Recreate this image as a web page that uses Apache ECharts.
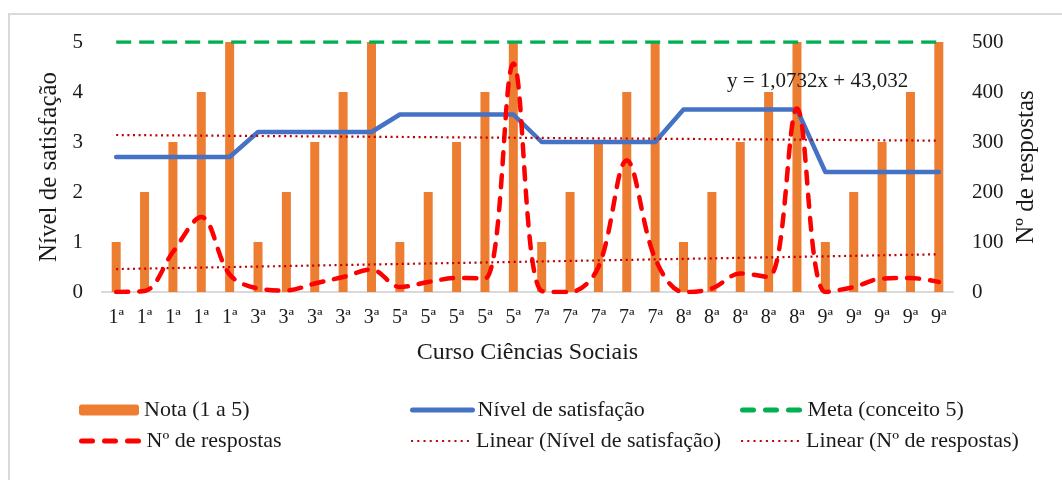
<!DOCTYPE html>
<html><head><meta charset="utf-8">
<script src="https://cdn.jsdelivr.net/npm/echarts@6/dist/echarts.min.js"></script>
<style>html,body{margin:0;padding:0;background:#fff}#c{width:1062px;height:480px}</style>
</head><body><div id="c"></div>
<script>
const categories = ['1ª','1ª','1ª','1ª','1ª','3ª','3ª','3ª','3ª','3ª','5ª','5ª','5ª','5ª','5ª','7ª','7ª','7ª','7ª','7ª','8ª','8ª','8ª','8ª','8ª','9ª','9ª','9ª','9ª','9ª'];
const nota = [1,2,3,4,5, 1,2,3,4,5, 1,2,3,4,5, 1,2,3,4,5, 1,2,3,4,5, 1,2,3,4,5];
const satisfacao = [2.7,2.7,2.7,2.7,2.7, 3.2,3.2,3.2,3.2,3.2, 3.55,3.55,3.55,3.55,3.55, 3.0,3.0,3.0,3.0,3.0, 3.65,3.65,3.65,3.65,3.65, 2.4,2.4,2.4,2.4,2.4];
const meta = [5,5,5,5,5, 5,5,5,5,5, 5,5,5,5,5, 5,5,5,5,5, 5,5,5,5,5, 5,5,5,5,5];
const respostas = [0,2,80,150,35, 7,3,17,30,45, 10,20,28,27,457, 2,0,50,263,67, 0,7,37,30,367, 0,10,27,28,20];
const equationText = 'y = 1,0732x + 43,032';

function linearTrend(ys){
  const n = ys.length;
  let sx=0, sy=0, sxy=0, sxx=0;
  ys.forEach((y,i)=>{const x=i+1; sx+=x; sy+=y; sxy+=x*y; sxx+=x*x;});
  const b = (n*sxy - sx*sy)/(n*sxx - sx*sx);
  const a = (sy - b*sx)/n;
  return ys.map((_,i)=> a + b*(i+1));
}

const FONT = 'Liberation Serif';
const TXT = '#1a1a1a';
const chart = echarts.init(document.getElementById('c'), null, {renderer:'canvas'});

const legendBase = {padding:0, itemWidth:60, itemHeight:11, itemGap:6, textStyle:{fontFamily:FONT, fontSize:22, color:TXT}, selectedMode:false};
function leg(name, left, top, extra){ return Object.assign({}, legendBase, {data:[name], left:left, top:top}, extra||{}); }
const hideSym = {itemStyle:{opacity:0, color:'rgba(0,0,0,0)', borderWidth:0}};
const option = {
  backgroundColor:'#fff',
  animation:false,
  graphic:[
    {type:'rect', shape:{x:9, y:14, width:1100, height:520}, style:{fill:'none', stroke:'#D9D9D9', lineWidth:2}, silent:true, z:-10},
    {type:'text', left:727, top:71, style:{text:equationText, fontFamily:FONT, fontSize:21, fill:TXT}, z:100}
  ],
  grid:{left:102, right:109, top:42, bottom:188, containLabel:false},
  xAxis:{
    type:'category', data:categories, boundaryGap:true,
    name:'Curso Ciências Sociais', nameLocation:'middle', nameGap:49,
    nameTextStyle:{fontFamily:FONT, fontSize:24, color:TXT},
    axisLine:{show:true, lineStyle:{color:'#D9D9D9', width:2}},
    axisTick:{show:false},
    axisLabel:{fontFamily:FONT, fontSize:20, color:TXT, margin:16, interval:0}
  },
  yAxis:[
    {type:'value', min:0, max:5, interval:1, position:'left',
     name:'Nível de satisfação', nameLocation:'middle', nameGap:37, nameRotate:90,
     nameTextStyle:{fontFamily:FONT, fontSize:25, color:TXT},
     axisLine:{show:false}, axisTick:{show:false}, splitLine:{show:false},
     axisLabel:{fontFamily:FONT, fontSize:21, color:TXT, margin:19}},
    {type:'value', min:0, max:500, interval:100, position:'right',
     name:'Nº de respostas', nameLocation:'middle', nameGap:58, nameRotate:90,
     nameTextStyle:{fontFamily:FONT, fontSize:25, color:TXT},
     axisLine:{show:false}, axisTick:{show:false}, splitLine:{show:false},
     axisLabel:{fontFamily:FONT, fontSize:21, color:TXT, margin:19}}
  ],
  legend:[
    leg('Nota (1 a 5)', 79, 399),
    leg('Nível de satisfação', 410, 399, Object.assign({lineStyle:{width:5, cap:'round'}}, hideSym)),
    leg('Meta (conceito 5)', 740, 399, Object.assign({lineStyle:{type:[11,12], width:5, cap:'round'}}, hideSym)),
    leg('Nº de respostas', 79, 430, Object.assign({lineStyle:{type:[11,12], width:5, cap:'round'}}, hideSym)),
    leg('Linear (Nível de satisfação)', 410, 430, Object.assign({lineStyle:{type:[2,4.2], width:2.2}}, hideSym)),
    leg('Linear (Nº de respostas)', 740, 430, Object.assign({lineStyle:{type:[2,4.2], width:2.2}}, hideSym))
  ],
  series:[
    {name:'Nota (1 a 5)', type:'bar', yAxisIndex:0, data:nota, barWidth:9, itemStyle:{color:'#ED7D31'}, z:1},
    {name:'Nível de satisfação', type:'line', yAxisIndex:0, data:satisfacao, symbol:'none',
     lineStyle:{color:'#4472C4', width:4.5, cap:'round', join:'round'}, itemStyle:{color:'#4472C4'}, z:3},
    {name:'Meta (conceito 5)', type:'line', yAxisIndex:0, data:meta, symbol:'none',
     lineStyle:{color:'#00B050', width:3.5, type:[15,8]}, itemStyle:{color:'#00B050'}, z:3},
    {name:'Nº de respostas', type:'line', yAxisIndex:1, data:respostas, symbol:'none', smooth:0.35,
     lineStyle:{color:'#FF0000', width:4.5, type:[12,11], cap:'round'}, itemStyle:{color:'#FF0000'}, z:4},
    {name:'Linear (Nível de satisfação)', type:'line', yAxisIndex:0, data:linearTrend(satisfacao), symbol:'none',
     lineStyle:{color:'#C00000', width:2.2, type:[2,3.6]}, itemStyle:{color:'#C00000'}, z:5},
    {name:'Linear (Nº de respostas)', type:'line', yAxisIndex:1, data:linearTrend(respostas), symbol:'none',
     lineStyle:{color:'#C00000', width:2.2, type:[2,3.6]}, itemStyle:{color:'#C00000'}, z:5}
  ]
};
chart.setOption(option);
</script></body></html>
